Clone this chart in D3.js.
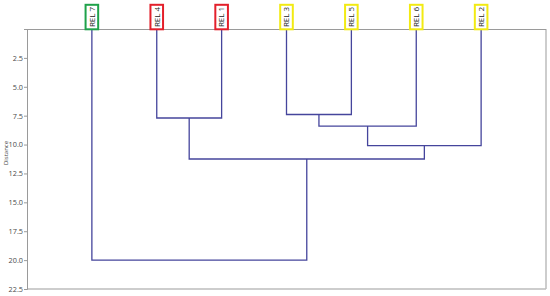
<!DOCTYPE html>
<html><head><meta charset="utf-8">
<script src="https://cdn.jsdelivr.net/npm/d3@7"></script>
<style>body{margin:0;background:#fff}svg{display:block}</style>
</head><body>
<svg id="c" width="550" height="296"></svg>
<script>
const leaves = ["REL 7","REL 4","REL 1","REL 3","REL 5","REL 6","REL 2"];
const leafGroups = ["green","red","red","yellow","yellow","yellow","yellow"];
const groupColors = {green:"#1fa24a", red:"#e3202b", yellow:"#f2ea12"};
// merges: [id, left child, right child, distance]
const merges = [
  ["M1","REL 4","REL 1",7.7],
  ["M2","REL 3","REL 5",7.4],
  ["M3","M2","REL 6",8.4],
  ["M4","M3","REL 2",10.1],
  ["M5","M1","M4",11.25],
  ["M6","REL 7","M5",20.0]
];
const yTicks = [2.5,5.0,7.5,10.0,12.5,15.0,17.5,20.0,22.5];

const svg = d3.select("#c");
const L=27, R=546, T=29, B=289;
const x = d3.scalePoint().domain(leaves).range([L,R]).padding(1);
const y = d3.scaleLinear().domain([0,22.5]).range([T,B]);

// frame
svg.append("line").attr("x1",R).attr("x2",R).attr("y1",T).attr("y2",B).attr("stroke","#bdbdbd").attr("stroke-width",1.5);
svg.append("line").attr("x1",L).attr("x2",R).attr("y1",B).attr("y2",B).attr("stroke","#bdbdbd").attr("stroke-width",1.5);
svg.append("line").attr("x1",L).attr("x2",R).attr("y1",T+0.5).attr("y2",T+0.5).attr("stroke","#9a9a9a").attr("stroke-width",1);

// y axis
const ya = svg.append("g").attr("transform",`translate(${L},0)`)
  .call(d3.axisLeft(y).tickValues(yTicks).tickFormat(d3.format(".1f")).tickSize(3).tickPadding(1));
ya.select(".domain").attr("stroke","#9a9a9a");
ya.selectAll(".tick line").attr("stroke","#9a9a9a");
ya.selectAll("text").attr("fill","#4a4a4a").style("font-family","Open Sans, sans-serif").style("font-size","7.3px");

svg.append("text").attr("transform",`translate(8,${153}) rotate(-90)`)
  .attr("text-anchor","middle").attr("fill","#444")
  .style("font-family","Open Sans, sans-serif").style("font-size","6px").text("Distance");

// positions
const pos = {};
leaves.forEach(l=>{pos[l]={x:x(l),h:0};});
merges.forEach(([id,a,b,h])=>{pos[id]={x:(pos[a].x+pos[b].x)/2,h:h};});

const g = svg.append("g");
merges.forEach(([id,a,b,h])=>{
  const pa=pos[a], pb=pos[b];
  const p = d3.path();
  p.moveTo(pa.x, y(pa.h)); p.lineTo(pa.x, y(h)); p.lineTo(pb.x, y(h)); p.lineTo(pb.x, y(pb.h));
  g.append("path").attr("d",p.toString()).attr("fill","none").attr("stroke","#45459c").attr("stroke-width",1.3);
});

// leaf labels
leaves.forEach((l,i)=>{
  const cx = x(l);
  svg.append("rect").attr("x",cx-6.3).attr("y",4.8).attr("width",12.6).attr("height",24.5)
    .attr("fill","#fff").attr("stroke",groupColors[leafGroups[i]]).attr("stroke-width",2);
  svg.append("text").attr("transform",`translate(${cx+2.8},17) rotate(-90)`)
    .attr("text-anchor","middle").attr("fill","#222")
    .style("font-family","Open Sans, sans-serif").style("font-size","8px").text(l);
});
</script>
</body></html>
